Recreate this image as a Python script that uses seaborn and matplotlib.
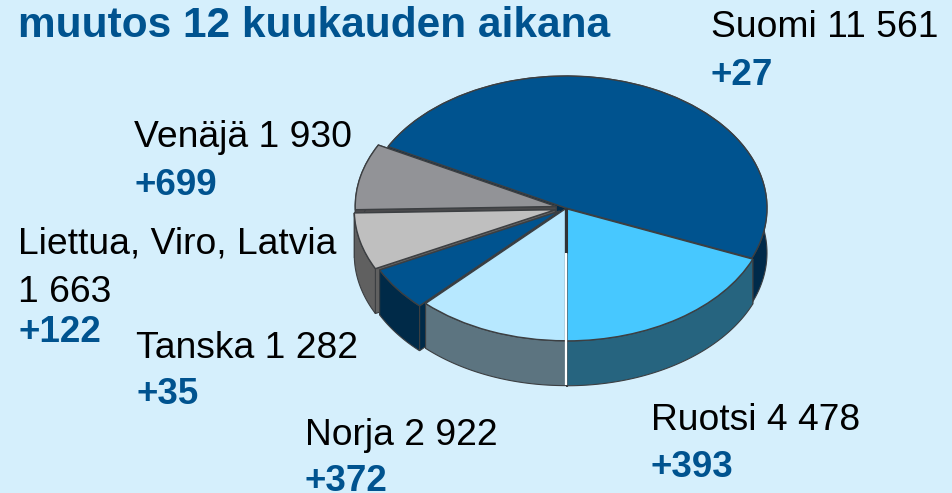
import numpy as np
import matplotlib
matplotlib.use('Agg')
import matplotlib.pyplot as plt
from matplotlib.patches import Polygon
import seaborn as sns

# --- Data ---
countries = ['Ruotsi', 'Suomi', 'Venäjä', 'Liettua, Viro, Latvia', 'Tanska', 'Norja']
values = [4478, 11561, 1930, 1663, 1282, 2922]
value_labels = ['4 478', '11 561', '1 930', '1 663', '1 282', '2 922']
changes = ['+393', '+27', '+699', '+122', '+35', '+372']
title = 'muutos 12 kuukauden aikana'

# --- Style ---
bg = '#d5effc'
blue = '#00538f'
edge = '#3c3f42'
top_colors = ['#47c8ff', '#00538f', '#929397', '#bfbfbf', '#00538f', '#b7e8ff']
wall_colors = ['#26647f', '#002a4a', '#4a4a4c', '#606060', '#002a48', '#5c7480']
explode = [0.008, 0.0, 0.05, 0.055, 0.04, 0.006]
depth = 0.34
W, H = 952, 493
cx, cy, rx, ry = 566, 208, 201, 132

sns.set_theme(style='white', rc={'figure.facecolor': bg, 'axes.facecolor': bg})
plt.rcParams['font.family'] = ['Liberation Sans', 'DejaVu Sans']

fig = plt.figure(figsize=(W / 100, H / 100), dpi=100)
ax = fig.add_axes([0, 0, 1, 1])

wedges, _ = ax.pie(values, startangle=270, counterclock=True, explode=explode,
                   colors=top_colors, wedgeprops={'edgecolor': edge, 'linewidth': 1})
ax.set_aspect('auto')
ax.set_xlim(-cx / rx, (W - cx) / rx)
ax.set_ylim(-(H - cy) / ry, cy / ry)
ax.axis('off')


def mid_sin(w):
    return np.sin(np.radians((w.theta1 + w.theta2) / 2))


# draw back to front so nearer slices cover the ones behind
order = sorted(range(len(wedges)), key=lambda i: -mid_sin(wedges[i]))
for z, i in enumerate(order):
    w = wedges[i]
    x0, y0 = w.center
    t = np.radians(np.linspace(w.theta1, w.theta2, 120))
    ax_x = x0 + w.r * np.cos(t)
    ax_y = y0 + w.r * np.sin(t)
    base = 3 * z + 2
    # cut faces
    for k in (0, -1):
        face = [(x0, y0), (ax_x[k], ax_y[k]), (ax_x[k], ax_y[k] - depth), (x0, y0 - depth)]
        ax.add_patch(Polygon(face, closed=True, facecolor=wall_colors[i], edgecolor=edge,
                             linewidth=0.8, zorder=base))
    # outer wall
    wall = np.vstack([np.column_stack([ax_x, ax_y]),
                      np.column_stack([ax_x, ax_y - depth])[::-1]])
    ax.add_patch(Polygon(wall, closed=True, facecolor=wall_colors[i], edgecolor=edge,
                         linewidth=0.8, zorder=base + 1))
    w.set_zorder(base + 2)

# seam between Norja and Ruotsi
seam = wedges[0].center[0] / 2 + wedges[-1].center[0] / 2
top_z = 3 * len(wedges) + 5
ax.plot([seam, seam], [0, -depth], color='#2f3336', lw=2.2, zorder=top_z, solid_capstyle='butt')
ax.plot([seam, seam], [-depth, -1 - depth], color='white', lw=1.6, zorder=top_z, solid_capstyle='butt')


def label(x, y, s, **kw):
    # positions are image pixels, baseline anchored
    fig.text(x / W, 1 - y / H, s, va='baseline', ha='left', **kw)


label(18, 37, title, fontsize=30.5, fontweight='bold', color=blue)

label_pos = {
    'Suomi': [(711, 37, 'Suomi ' + value_labels[1]), (711, 85, changes[1])],
    'Venäjä': [(134, 147, 'Venäjä ' + value_labels[2]), (134, 195, changes[2])],
    'Liettua': [(18, 254, countries[3]), (18, 302, value_labels[3]), (18, 342, changes[3])],
    'Tanska': [(136, 358, 'Tanska ' + value_labels[4]), (136, 404, changes[4])],
    'Norja': [(305, 445, 'Norja ' + value_labels[5]), (305, 491, changes[5])],
    'Ruotsi': [(651, 430, 'Ruotsi ' + value_labels[0]), (651, 477, changes[0])],
}
for rows in label_pos.values():
    for x, y, s in rows:
        if s.startswith('+'):
            label(x, y, s, fontsize=26.5, fontweight='bold', color=blue)
        else:
            label(x, y, s, fontsize=26.8, color='black')

fig.savefig('out.png', dpi=100, facecolor=bg)
